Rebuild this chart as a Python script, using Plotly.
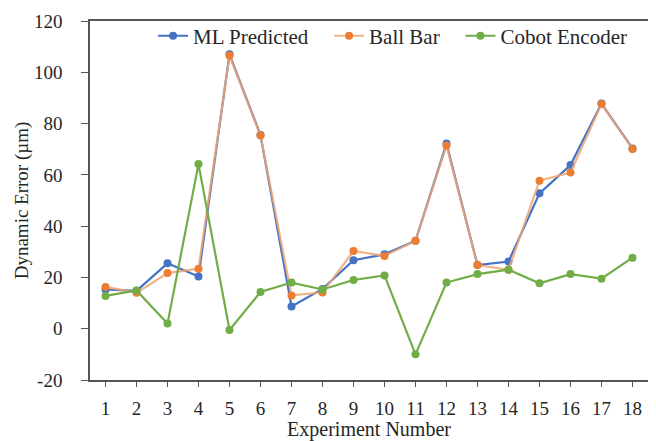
import plotly.graph_objects as go

experiments = list(range(1, 19))
ml_predicted = [15.3, 14.8, 25.5, 20.4, 107, 75.5, 8.7, 15.5, 26.7, 29.0, 34.3, 72.2, 24.8, 26.2, 52.8, 63.8, 87.8, 70.3]
ball_bar = [16.3, 14.0, 21.7, 23.4, 106.5, 75.3, 13.0, 14.1, 30.3, 28.4, 34.3, 71.4, 24.8, 23.0, 57.7, 60.9, 87.6, 70.1]
cobot_encoder = [12.8, 14.9, 2.0, 64.2, -0.5, 14.3, 18.0, 15.3, 19.0, 20.8, -10.0, 18.0, 21.3, 23.0, 17.7, 21.3, 19.5, 27.7]
series_names = ["ML Predicted", "Ball Bar", "Cobot Encoder"]
y_ticks = [-20, 0, 20, 40, 60, 80, 100, 120]
y_tick_labels = ["-20", "0", "20", "40", "60", "80", "100", "120"]

FONT = "Liberation Serif"
TXT = "#262626"
PAD = "\u00a0" * 3  # visual spacing between legend entries

fig = go.Figure()
fig.add_trace(go.Scatter(
    x=experiments, y=ml_predicted, name=series_names[0] + PAD, mode="lines+markers",
    line=dict(color="#4472C4", width=2.2), marker=dict(color="#4472C4", size=8)))
fig.add_trace(go.Scatter(
    x=experiments, y=ball_bar, name=series_names[1] + PAD, mode="lines+markers",
    line=dict(color="rgba(240,165,115,0.85)", width=2.2), marker=dict(color="#ED7D31", size=8)))
fig.add_trace(go.Scatter(
    x=experiments, y=cobot_encoder, name=series_names[2], mode="lines+markers",
    line=dict(color="#70AD47", width=2.2), marker=dict(color="#70AD47", size=8)))

fig.update_layout(
    width=648, height=433,
    margin=dict(l=82, r=8, t=9, b=61),
    paper_bgcolor="white", plot_bgcolor="white",
    font=dict(family=FONT, size=19, color=TXT),
    showlegend=True,
    legend=dict(orientation="h", x=0.113, xanchor="left", y=1.015, yanchor="top",
                bgcolor="rgba(0,0,0,0)", font=dict(family=FONT, size=21, color=TXT),
                itemwidth=30, tracegroupgap=0),
)
fig.update_xaxes(
    range=[0.5, 18.5], tickmode="array", tickvals=experiments,
    ticktext=[str(e) for e in experiments],
    showgrid=False, zeroline=False, automargin=False,
    showline=True, linecolor="#555555", linewidth=1.5, mirror=True,
    ticks="outside", ticklen=5, tickcolor="#555555", ticklabelstandoff=5,
    title=dict(text="Experiment Number", standoff=2, font=dict(family=FONT, size=20, color=TXT)),
    tickfont=dict(family=FONT, size=19, color=TXT),
)
fig.update_yaxes(
    range=[-20, 120], tickmode="array", tickvals=y_ticks, ticktext=y_tick_labels,
    showgrid=False, zeroline=False, automargin=False,
    showline=True, linecolor="#555555", linewidth=1.5, mirror=True,
    ticks="outside", ticklen=7, tickcolor="#555555", ticklabelstandoff=15,
    title=dict(text="Dynamic Error (µm)", standoff=0, font=dict(family=FONT, size=19, color=TXT)),
    tickfont=dict(family=FONT, size=19, color=TXT),
)

fig.write_html("out.html")
